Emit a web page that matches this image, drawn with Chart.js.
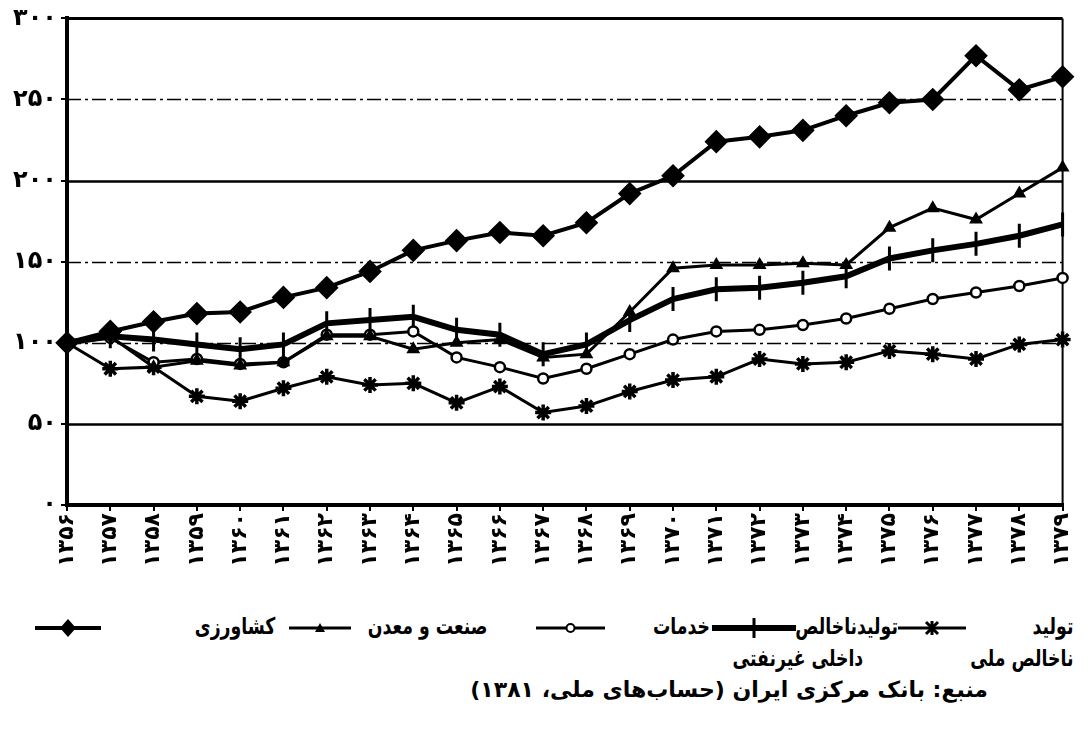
<!DOCTYPE html>
<html>
<head>
<meta charset="utf-8">
<script src="https://cdn.jsdelivr.net/npm/chart.js@4.4.1/dist/chart.umd.min.js"></script>
<style>
  body { margin: 0; background: #fff; font-family: "DejaVu Sans", sans-serif; }
  #wrap { position: relative; width: 1091px; height: 729px; }
  #box { position: absolute; left: 0; top: 0; width: 1091px; height: 600px; }
  .t { position: absolute; direction: rtl; font-weight: bold; font-size: 23px; color: #000; white-space: nowrap;
       line-height: 1; transform: scaleX(0.75); transform-origin: right center; }
  .src { transform: none; font-size: 22px; }
  .m { position: absolute; }
</style>
</head>
<body>
<div id="wrap">
  <div id="box"><canvas id="chart"></canvas></div>

  <div class="t" style="right:18px; top:615px;">تولید</div>
  <div class="t" style="right:18px; top:647px;">ناخالص ملی</div>
  <svg class="m" style="left:898px; top:616px;" width="68" height="24" id="mk0"></svg>

  <div class="t" style="right:193px; top:615px;">تولیدناخالص</div>
  <div class="t" style="right:228px; top:647px;">داخلی غیرنفتی</div>
  <svg class="m" style="left:712px; top:616px;" width="84" height="24" id="mk1"></svg>

  <div class="t" style="right:381px; top:615px;">خدمات</div>
  <svg class="m" style="left:536px; top:616px;" width="69" height="24" id="mk2"></svg>

  <div class="t" style="right:604px; top:615px;">صنعت و معدن</div>
  <svg class="m" style="left:289px; top:616px;" width="62" height="24" id="mk3"></svg>

  <div class="t" style="right:816px; top:615px;">کشاورزی</div>
  <svg class="m" style="left:35px; top:616px;" width="66" height="24" id="mk4"></svg>

  <div class="t src" style="right:103px; top:679px;">منبع: بانک مرکزی ایران (حساب‌های ملی، ۱۳۸۱)</div>
</div>

<script>
// years 1356 .. 1379 (Persian digits)
const years = ["۱۳۵۶","۱۳۵۷","۱۳۵۸","۱۳۵۹","۱۳۶۰","۱۳۶۱","۱۳۶۲","۱۳۶۳","۱۳۶۴","۱۳۶۵","۱۳۶۶","۱۳۶۷",
               "۱۳۶۸","۱۳۶۹","۱۳۷۰","۱۳۷۱","۱۳۷۲","۱۳۷۳","۱۳۷۴","۱۳۷۵","۱۳۷۶","۱۳۷۷","۱۳۷۸","۱۳۷۹"];

// index values, 1356 = 100
const agriculture = [100,107,113,118,119,128,134,144,157,163,168,166,174,192,203,224,227,231,240,248,250,277,256,264];
const industry    = [100,104,85,89,86,88,104,104,96,100,102,91,93,119,146,148,148,149,148,171,183,176,192,208];
const services    = [100,103,88,90,87,88,105,105,107,91,85,78,84,93,102,107,108,111,115,121,127,131,135,140];
const nonOilGdp   = [100,104,102,99,96,99,112,114,116,108,105,93,99,114,127,133,134,137,141,152,157,161,166,173];
const gnp         = [100,84,85,67,64,72,79,74,75,63,73,57,61,70,77,79,90,87,88,95,93,90,99,102];

const yTicks = [0, 50, 100, 150, 200, 250, 300];
const solidGrid = [50, 200, 300];

const faDigits = "۰۱۲۳۴۵۶۷۸۹";
function toFa(n) {
    return String(n).replace(/[0-9]/g, d => faDigits[d]);
}

// grid lines (solid and dash-dot) plus the top and right frame
const frame = {
    id: "frame",
    beforeDatasetsDraw(chart) {
        const { ctx, chartArea: a, scales: { y } } = chart;
        ctx.save();
        ctx.strokeStyle = "#000";
        yTicks.forEach(v => {
            if (v === 0) return;
            const py = Math.round(y.getPixelForValue(v)) + 0.5;
            if (solidGrid.includes(v)) {
                ctx.setLineDash([]);
                ctx.lineWidth = v === 300 ? 3 : 2.5;
            } else {
                ctx.setLineDash([14, 4, 3, 4]);
                ctx.lineWidth = 1.6;
            }
            ctx.beginPath();
            ctx.moveTo(a.left, py);
            ctx.lineTo(a.right, py);
            ctx.stroke();
        });
        ctx.setLineDash([]);
        ctx.lineWidth = 2;
        ctx.beginPath();
        ctx.moveTo(a.right, a.top);
        ctx.lineTo(a.right, a.bottom);
        ctx.stroke();
        ctx.restore();
    }
};

new Chart(document.getElementById("chart"), {
    type: "line",
    data: {
        labels: years,
        datasets: [
            {
                label: "کشاورزی", data: agriculture,
                borderColor: "#000", borderWidth: 4,
                pointStyle: "rectRot", pointRadius: 9,
                pointBackgroundColor: "#000", pointBorderColor: "#000"
            },
            {
                label: "صنعت و معدن", data: industry,
                borderColor: "#000", borderWidth: 3,
                pointStyle: "triangle", pointRadius: 5,
                pointBackgroundColor: "#000", pointBorderColor: "#000"
            },
            {
                label: "خدمات", data: services,
                borderColor: "#000", borderWidth: 3,
                pointStyle: "circle", pointRadius: 5, pointBorderWidth: 2.5,
                pointBackgroundColor: "#fff", pointBorderColor: "#000"
            },
            {
                label: "تولید ناخالص داخلی غیرنفتی", data: nonOilGdp,
                borderColor: "#000", borderWidth: 6,
                pointStyle: "line", pointRotation: 90, pointRadius: 12, pointBorderWidth: 3,
                pointBackgroundColor: "#000", pointBorderColor: "#000"
            },
            {
                label: "تولید ناخالص ملی", data: gnp,
                borderColor: "#000", borderWidth: 3,
                pointStyle: "star", pointRadius: 8, pointBorderWidth: 3.5,
                pointBackgroundColor: "#000", pointBorderColor: "#000"
            }
        ]
    },
    options: {
        responsive: true,
        maintainAspectRatio: false,
        animation: false,
        layout: { padding: { top: 13, right: 14, left: 0, bottom: 0 } },
        plugins: {
            legend: { display: false },
            tooltip: { enabled: false }
        },
        elements: { line: { tension: 0 } },
        scales: {
            x: {
                offset: false,
                grid: { display: true, drawOnChartArea: false, drawTicks: true, tickLength: 6, color: "#000", lineWidth: 2 },
                border: { display: true, color: "#000", width: 4 },
                ticks: {
                    color: "#000", autoSkip: false, minRotation: 90, maxRotation: 90, padding: 2,
                    font: { family: "DejaVu Sans", size: 22, weight: "bold" }
                },
                afterFit: s => { s.height = 95; }
            },
            y: {
                min: 0, max: 300,
                afterBuildTicks: s => { s.ticks = yTicks.map(v => ({ value: v })); },
                grid: { display: true, drawOnChartArea: false, drawTicks: true, tickLength: 6, color: "#000", lineWidth: 2 },
                border: { display: true, color: "#000", width: 4 },
                ticks: {
                    color: "#000", padding: 4,
                    font: { family: "DejaVu Sans", size: 24, weight: "bold" },
                    callback: v => toFa(v)
                },
                afterFit: s => { s.width = 67; }
            }
        }
    },
    plugins: [frame]
});

// legend markers: a line with the series' marker in the middle
function marker(id, w, lineW, shape) {
    const svg = document.getElementById(id);
    const c = w / 2, y = 12;
    let s = `<line x1="0" y1="${y}" x2="${w}" y2="${y}" stroke="#000" stroke-width="${lineW}"/>`;
    if (shape === "star") {
        s += `<path d="M${c-6} ${y-6}L${c+6} ${y+6}M${c+6} ${y-6}L${c-6} ${y+6}M${c} ${y-7}L${c} ${y+7}" stroke="#000" stroke-width="3"/>`;
    } else if (shape === "tick") {
        s += `<line x1="${c}" y1="${y-10}" x2="${c}" y2="${y+10}" stroke="#000" stroke-width="3"/>`;
    } else if (shape === "circle") {
        s += `<circle cx="${c}" cy="${y}" r="4" fill="#fff" stroke="#000" stroke-width="2"/>`;
    } else if (shape === "triangle") {
        s += `<path d="M${c-5} ${y+4}L${c} ${y-5}L${c+5} ${y+4}Z" fill="#000"/>`;
    } else if (shape === "diamond") {
        s += `<path d="M${c} ${y-9}L${c+8} ${y}L${c} ${y+9}L${c-8} ${y}Z" fill="#000"/>`;
    }
    svg.innerHTML = s;
}
marker("mk0", 68, 3, "star");
marker("mk1", 84, 6, "tick");
marker("mk2", 69, 3, "circle");
marker("mk3", 62, 3, "triangle");
marker("mk4", 66, 4, "diamond");
</script>
</body>
</html>
